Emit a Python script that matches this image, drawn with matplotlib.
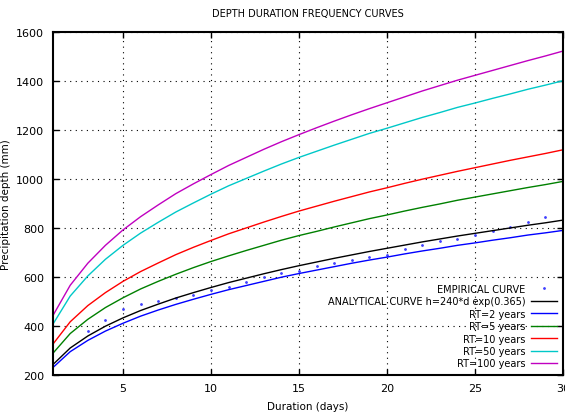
import matplotlib
matplotlib.use("Agg")
import matplotlib.pyplot as plt

# Duration in days
days = list(range(1, 31))

# Empirical points
emp_days = [3, 4, 5, 6, 7, 8, 9, 10, 11, 12, 13, 14, 15, 16, 17, 18, 19, 20,
            21, 22, 23, 24, 25, 26, 27, 28, 29]
emp_depth = [378, 424, 468, 489, 502, 515, 525, 545, 558, 578, 599, 615, 624,
             645, 655, 668, 680, 689, 713, 729, 746, 754, 770, 785, 803, 823, 843]

analytical = [240, 309, 358, 398, 432, 462, 488, 513, 535, 556, 576, 594, 612,
              629, 645, 660, 675, 689, 703, 716, 729, 742, 754, 766, 777, 788,
              799, 810, 820, 831]
rt2 = [228, 294, 340, 378, 410, 439, 464, 487, 508, 528, 547, 564, 581, 598,
       613, 627, 641, 655, 668, 680, 693, 705, 716, 728, 738, 749, 759, 770,
       779, 789]
rt5 = [286, 368, 426, 474, 514, 550, 581, 610, 637, 662, 685, 707, 728, 749,
       768, 785, 803, 820, 837, 852, 868, 883, 897, 912, 925, 938, 951, 964,
       976, 989]
rt10 = [323, 416, 482, 535, 581, 621, 656, 690, 720, 748, 775, 799, 823, 846,
        868, 888, 908, 927, 946, 963, 981, 998, 1014, 1030, 1045, 1060, 1075,
        1089, 1103, 1118]
rt50 = [404, 521, 603, 671, 728, 778, 822, 864, 901, 937, 971, 1001, 1031,
        1060, 1087, 1112, 1137, 1161, 1185, 1206, 1228, 1250, 1270, 1291, 1309,
        1328, 1346, 1365, 1382, 1400]
rt100 = [439, 565, 655, 728, 791, 845, 893, 939, 979, 1017, 1054, 1087, 1120,
         1151, 1180, 1208, 1235, 1261, 1286, 1310, 1334, 1358, 1380, 1402, 1422,
         1442, 1462, 1482, 1501, 1521]

series = [
    ("RT=2 years", rt2, "#0000ff"),
    ("RT=5 years", rt5, "#008000"),
    ("RT=10 years", rt10, "#ff0000"),
    ("RT=50 years", rt50, "#00c8c8"),
    ("RT=100 years", rt100, "#c000c0"),
]

plt.rcParams["font.family"] = "DejaVu Sans"
plt.rcParams["font.size"] = 7

fig = plt.figure(figsize=(5.65, 4.14), dpi=100)
ax = fig.add_axes([0.0931, 0.0925, 0.9034, 0.8285])

ax.plot(emp_days, emp_depth, linestyle="none", marker=".", markersize=2,
        color="#4040ff", label="EMPIRICAL CURVE")
ax.plot(days, analytical, color="black", lw=1,
        label="ANALYTICAL CURVE h=240*d exp(0.365)")
for name, vals, col in series:
    ax.plot(days, vals, color=col, lw=1, label=name)

ax.set_xlim(1, 30)
ax.set_ylim(200, 1600)
ax.set_xticks([5, 10, 15, 20, 25, 30])
ax.set_yticks(range(200, 1601, 200))
ax.tick_params(direction="in", length=4, width=1, top=True, right=True,
               labelsize=8, pad=6)
for s in ax.spines.values():
    s.set_linewidth(1.5)
ax.grid(True, color="black", linestyle=(0, (1, 4)), linewidth=0.8)

ax.set_title("DEPTH DURATION FREQUENCY CURVES", fontsize=7, pad=11)
ax.set_xlabel("Duration (days)", fontsize=7.5, labelpad=6)
ax.set_ylabel("Precipitation depth (mm)", fontsize=7.5, labelpad=4)

ax.legend(loc="lower right", frameon=False, markerfirst=False, fontsize=7,
          handlelength=2.6, labelspacing=0.25, borderaxespad=0.25,
          handletextpad=0.6)

fig.savefig("out.png", dpi=100)
